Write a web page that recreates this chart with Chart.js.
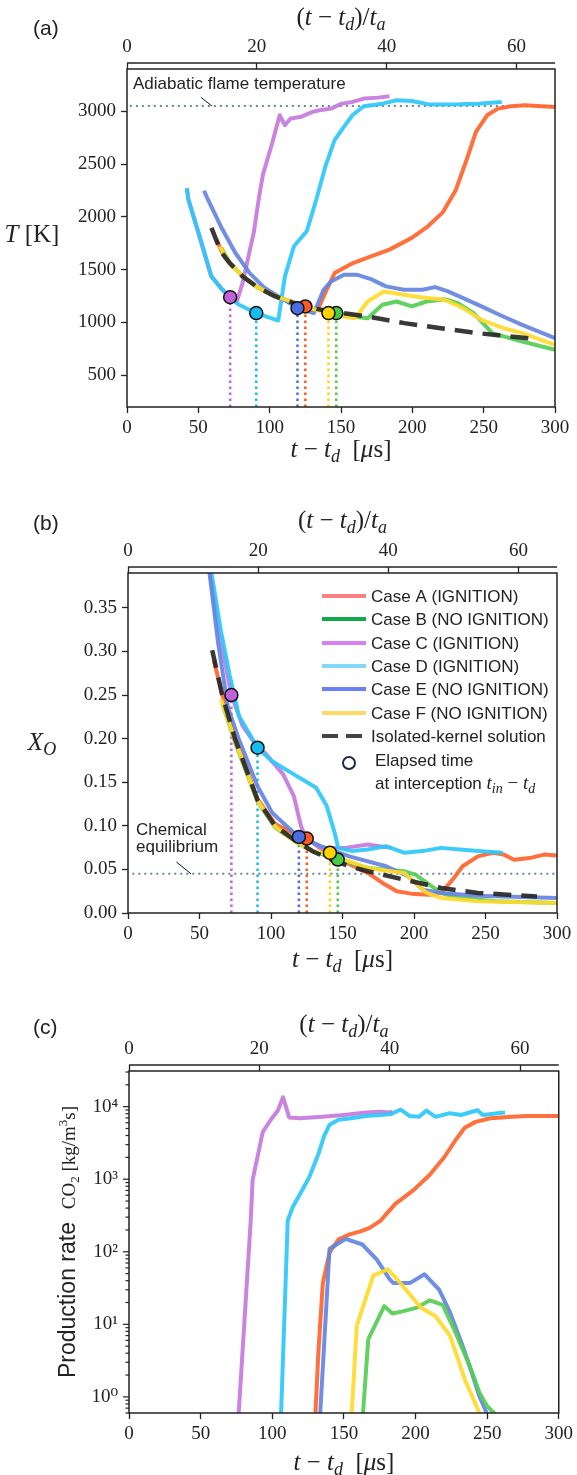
<!DOCTYPE html>
<html><head><meta charset="utf-8">
<script src="https://cdn.jsdelivr.net/npm/chart.js@4.4.1/dist/chart.umd.min.js"></script>
<style>
html,body{margin:0;padding:0;background:#fff;}
body{width:577px;height:1475px;position:relative;overflow:hidden;}
canvas{position:absolute;left:0;}
</style></head><body>
<canvas id="ca" width="577" height="478" style="top:0px"></canvas>
<canvas id="cb" width="577" height="505" style="top:480px"></canvas>
<canvas id="cc" width="577" height="485" style="top:990px"></canvas>
<script>
// ---------------- DATA ----------------
const caseLabels = ['Case A (IGNITION)','Case B (NO IGNITION)','Case C (IGNITION)','Case D (IGNITION)','Case E (NO IGNITION)','Case F (NO IGNITION)'];
const isolatedLabel = 'Isolated-kernel solution';
const timeTicks = [0,50,100,150,200,250,300];
const scaledTimeTicks = [0,20,40,60];
const tempTicks = [500,1000,1500,2000,2500,3000];
const xoTicks = [0,0.05,0.10,0.15,0.20,0.25,0.30,0.35];
const ta = 4.55; // advection time, us
const T_adiabatic = 3050;
const XO_equilibrium = 0.045;

// interception times (A..F) and values on each panel
const tInterception = [125, 146.7, 72.3, 90.6, 119.5, 141.2];
const T_atInterception = [1152, 1089, 1240, 1089, 1136, 1089];
const XO_atInterception = [0.0854, 0.0613, 0.25, 0.1896, 0.0873, 0.069];

// Panel (a) temperature
const aTimeA = [63,66,72,81,91.4,104,117,125,130,134,140,145.5,158.4,171,184,199.6,210,221.5,230.5,238,244.6,252.4,260,269,279,300];
const aTempA = [1780,1680,1565,1440,1335,1245,1180,1152,1120,1130,1310,1468,1563,1627,1690,1801,1900,2045,2255,2538,2805,2962,3025,3047,3057,3041];
const aTimeB = [66,72,81,91.4,104,117,130,146.7,158,168.7,179,189,199.6,210,223,232,243,256,264,277,300];
const aTempB = [1710,1565,1440,1335,1250,1190,1135,1089,1057,1041,1168,1199,1152,1199,1221,1184,1089,899,868,820,741];
const aTimeC = [42,43,50,59,66,72.3,77,81,88.8,92.7,95.3,98.6,101.7,107,110.7,114.6,122,130,135,143,150.6,158,166,176,184];
const aTempC = [2270,2165,1848,1437,1326,1240,1200,1373,1848,2200,2400,2553,2695,2962,2868,2931,2947,2994,3009,3025,3072,3088,3120,3129,3141];
const aTimeD = [42,43,50.2,59.2,65.7,72,78.5,90.6,103,106,110.7,117,126,132.6,139,145.5,152,158,166,179,189,199.6,212.5,233,246,262.7];
const aTempD = [2270,2165,1848,1437,1326,1240,1168,1089,1032,1019,1437,1722,1864,2160,2475,2726,2852,2962,3047,3072,3104,3097,3063,3066,3072,3088];
const aTimeE = [54,56.7,65.7,76,86,96.6,107,119.5,127.5,131,137.8,143,152,161,171,181.5,194,207,216,225,235.6,248.5,261,277,300];
const aTempE = [2248,2165,1912,1658,1468,1326,1240,1136,1104,1089,1310,1389,1453,1453,1411,1342,1310,1310,1335,1294,1231,1152,1073,978,851];
const aTimeF = [65,72,81,91.4,104,117,130,141.2,150,160,168.7,180,194,207,222.8,235.6,248.5,264,277,300];
const aTempF = [1720,1560,1440,1335,1250,1190,1130,1089,1060,1041,1199,1294,1263,1237,1215,1136,1025,946,899,788];
const aTimeIso = [59.2,65.7,72,81,91.4,104,117,130,143,168.7,194.4,220,246,286];
const aTempIso = [1896,1674,1563,1437,1335,1247,1184,1136,1104,1057,994,946,899,845];

// Panel (b) O mole fraction
const bTimeA = [60,66,75,90.5,103,116,125,142,167.6,178,188,198,211,219,227,234,244.7,255,262.7,270,280.7,291,300];
const bXoA = [0.290,0.250,0.200,0.131,0.102,0.091,0.0854,0.066,0.046,0.0345,0.0249,0.0222,0.021,0.023,0.0383,0.0536,0.065,0.069,0.067,0.061,0.063,0.067,0.066];
const bTimeB = [66,75,90.5,103,116,129,146.7,167.6,193,201,209,219,232,257.6,300];
const bXoB = [0.240,0.195,0.128,0.098,0.083,0.071,0.0613,0.0517,0.0479,0.044,0.0345,0.023,0.0172,0.0134,0.0115];
const bTimeC = [56,57.5,64,72.3,80,90.6,95.6,108.5,116,121,124,134,152,167.6,184];
const bXoC = [0.40,0.39,0.32,0.25,0.215,0.190,0.184,0.159,0.134,0.0996,0.088,0.0747,0.0747,0.0785,0.0747];
const bTimeD = [57,58.4,64.8,71.2,77.6,90.6,100.8,116,131.6,139,144.5,147,157,167.6,180.5,193.3,206,219,232,244.7,262];
const bXoD = [0.40,0.39,0.325,0.272,0.226,0.1896,0.174,0.159,0.1437,0.1226,0.092,0.0747,0.071,0.0728,0.0766,0.069,0.071,0.0747,0.0728,0.071,0.069];
const bTimeE = [55.5,57,63,70,77.6,90.5,100.8,111,119.5,134,154.8,180.5,196,206,219,244.7,300];
const bXoE = [0.40,0.39,0.31,0.235,0.199,0.1456,0.115,0.0996,0.0873,0.0774,0.065,0.0536,0.042,0.0268,0.023,0.0199,0.0172];
const bTimeF = [65,75,90.5,103,116,129,141.2,167.6,193,201,209,219,244.7,300];
const bXoF = [0.245,0.197,0.129,0.099,0.083,0.071,0.067,0.0517,0.046,0.0345,0.023,0.0172,0.0134,0.0115];
const bTimeIso = [58.9,66,75,90.5,103,116,129,142,154.8,167.6,193,219,244.7,286];
const bXoIso = [0.3015,0.249,0.199,0.130,0.0996,0.0843,0.0709,0.0613,0.0536,0.0479,0.0383,0.0287,0.023,0.019];

// Panel (c) CO2 production rate
const cTimeA = [129.5,130.2,132.2,135.3,140,146.3,154,161.6,168,175.6,185.9,198.6,210,220.3,228,234.4,242,252.2,267.5,277.7,288,300];
const cRateA = [0.3,0.61,4.1,37,98,148,174,191,214,269,457,708,1150,2040,3470,5130,6170,6920,7240,7410,7410,7410];
const cTimeB = [163,163.4,167,178.2,184,191,201,210,219,227,237,244.6,249.7,254.8,256];
const cRateB = [0.3,0.6,6.2,17.8,14.1,15.1,17,21.4,18.6,8.5,2.95,1.15,0.76,0.6,0.4];
const cTimeC = [76,76.6,85,86.3,93.4,99,104,107.5,111.8,119.5,134.8,150,165.4,175.7,181,184];
const cRateC = [0.32,0.61,275,980,4500,6600,8900,13500,7100,6900,7250,7700,8300,8500,8300,8500];
const cTimeD = [105.8,106.2,110.8,114.4,119.5,125.9,132.3,136.1,140,146.3,155,165.4,175.7,183.3,189.7,196,202.5,207.6,214,224,231.8,239.5,243.3,247,257.3,262.5];
const cRateD = [0.32,0.61,270,417,631,1070,2240,3890,5620,6610,6920,7410,7670,7940,9120,7410,7240,8810,7240,8130,7670,8510,8910,7670,8130,8320];
const cTimeE = [133,133.5,140,151.4,162.9,173,181.9,184.6,196,206.3,216.5,224.2,233,239.5,244.6,249.7,251];
const cRateE = [0.3,0.6,110,151,126,78,42,37,37,49,30,14.5,5.0,2.1,1.02,0.6,0.4];
const cTimeF = [154.8,155.5,159,170.5,180.8,191,203.7,214,224.2,234.4,244.6,246];
const cRateF = [0.3,0.6,9.5,47,57.5,34,17,12.9,6.9,1.74,0.6,0.4];

// ---------------- STYLE ----------------
const lineColors = ['rgba(255,100,45,0.92)','rgba(85,205,85,0.92)','rgba(198,122,221,0.92)','rgba(45,200,250,0.92)','rgba(100,132,226,0.92)','rgba(255,218,45,0.92)'];
const legendColors = ['#fb8080','#14a84c','#d680f2','#80d8fa','#6b80f2','#ffd966'];
const markerColors = ['#ff5a22','#48cc48','#c062d8','#14bdf0','#4a6ee0','#ffd400'];
const lineOrder = [7,6,5,4,3,2];
const SERIF='"Liberation Serif","DejaVu Serif",serif';
const SANS='"Liberation Sans",Arial,"DejaVu Sans",sans-serif';
const it=s=>`italic ${s}px ${SERIF}`;
const rm=s=>`${s}px ${SERIF}`;
const sn=s=>`${s}px ${SANS}`;
const INK='#222222';

function zip(xs,ys){return xs.map((x,i)=>({x,y:ys[i]}));}
function lineDs(xs,ys,color,width,order,dash){
  return {data:zip(xs,ys),showLine:true,borderColor:color,backgroundColor:color,borderWidth:width,
    pointRadius:0,pointHoverRadius:0,fill:false,tension:0,order,borderDash:dash||[],clip:0,
    borderCapStyle:'butt',borderJoinStyle:'round'};
}
function richWidth(ctx,runs){let w=0;for(const r of runs){ctx.font=r[1];w+=ctx.measureText(r[0]).width;}return w;}
function rich(ctx,runs,x,y,align){
  const w=richWidth(ctx,runs);
  let cx=align==='center'?x-w/2:(align==='right'?x-w:x);
  ctx.textAlign='left';ctx.textBaseline='alphabetic';ctx.fillStyle=INK;
  for(const r of runs){ctx.font=r[1];ctx.fillText(r[0],cx,y+(r[2]||0));cx+=ctx.measureText(r[0]).width;}
}
const xTitleRuns=[['t',it(25)],[' − ',rm(25)],['t',it(25)],['d',it(18),5],['  [',rm(25)],['μ',it(25)],['s]',rm(25)]];
const topTitleRuns=[['(',rm(25)],['t',it(25)],[' − ',rm(25)],['t',it(25)],['d',it(18),5],[')/',rm(25)],['t',it(25)],['a',it(18),5]];
function isPow10(v){const l=Math.log10(v);return Math.abs(l-Math.round(l))<1e-9;}
const SUP={'0':'⁰','1':'¹','2':'²','3':'³','4':'⁴','5':'⁵','-':'⁻'};
function powLabel(v){const e=String(Math.round(Math.log10(v)));return '10'+e.split('').map(c=>SUP[c]).join('');}

const tickFont={family:SERIF,size:19};
function gridOpts(len){return {drawOnChartArea:false,drawTicks:len>0,tickLength:len,tickColor:INK,tickWidth:1.3};}

function buildChart(id,geo,datasets,yScale,extraDraw){
  const cv=document.getElementById(id);
  const H=cv.height,W=cv.width;
  return new Chart(cv,{
    type:'scatter',
    data:{datasets},
    options:{
      responsive:false,animation:false,devicePixelRatio:1,events:[],
      layout:{padding:{left:0,top:0,bottom:0,right:W-geo.R}},
      plugins:{legend:{display:false},tooltip:{enabled:false}},
      scales:{
        x:{type:'linear',position:'bottom',min:0,max:300,
          afterBuildTicks:s=>{s.ticks=timeTicks.map(v=>({value:v}));},
          afterFit:s=>{s.height=H-geo.B;},
          grid:gridOpts(6),border:{display:false},
          ticks:{font:tickFont,color:INK,padding:4,maxRotation:0,autoSkip:false,callback:v=>String(v)}},
        x2:{type:'linear',position:'top',min:0,max:300/ta,
          afterBuildTicks:s=>{s.ticks=scaledTimeTicks.map(v=>({value:v}));},
          afterFit:s=>{s.height=geo.T;},
          grid:gridOpts(6),border:{display:false},
          ticks:{font:tickFont,color:INK,padding:5,maxRotation:0,autoSkip:false,callback:v=>String(v)}},
        y:Object.assign({position:'left',afterFit:s=>{s.width=geo.L;},border:{display:false}},yScale)
      }
    },
    plugins:[{id:'decor',
      afterDatasetsDraw(chart){
        const ctx=chart.ctx,a=chart.chartArea;
        ctx.save();
        ctx.strokeStyle=INK;ctx.lineWidth=1.5;ctx.setLineDash([]);
        ctx.strokeRect(a.left,a.top,a.right-a.left,a.bottom-a.top);
        ctx.beginPath();ctx.moveTo(a.left,a.top-6);ctx.lineTo(a.right,a.top-6);ctx.lineWidth=1.3;ctx.stroke();
        ctx.restore();
      },
      afterDraw(chart){const ctx=chart.ctx;ctx.save();extraDraw(chart,ctx);ctx.restore();}
    }]
  });
}

// ---------------- PANEL (a) ----------------
(function(){
  const geo={L:127,R:555,T:69,B:407};
  const ds=[];
  const aT=[aTimeA,aTimeB,aTimeC,aTimeD,aTimeE,aTimeF], aY=[aTempA,aTempB,aTempC,aTempD,aTempE,aTempF];
  for(let i=0;i<6;i++) ds.push(lineDs(aT[i],aY[i],lineColors[i],4,lineOrder[i]));
  ds.push(lineDs(aTimeIso,aTempIso,'rgba(40,40,40,0.92)',4.5,1,[18,10]));
  for(let i=0;i<6;i++) ds.push(lineDs([tInterception[i],tInterception[i]],[200,T_atInterception[i]],markerColors[i],2.5,9,[2.5,3.5]));
  ds.push(lineDs([2,300],[T_adiabatic,T_adiabatic],'#6d85a5',2,10,[2,4]));
  ds.push(lineDs([51.8,59.5],[3132,T_adiabatic],'#111',1,10));
  ds.push({data:zip(tInterception,T_atInterception),showLine:false,pointRadius:6.5,pointHoverRadius:6.5,
    backgroundColor:markerColors,borderColor:'#111',borderWidth:1.5,order:0});
  buildChart('ca',geo,ds,{type:'linear',min:200,max:3400,
    afterBuildTicks:s=>{s.ticks=tempTicks.map(v=>({value:v}));},
    grid:gridOpts(6),ticks:{font:tickFont,color:INK,padding:5,autoSkip:false,callback:v=>String(v)}},
    (chart,ctx)=>{
      const a=chart.chartArea,cx=(a.left+a.right)/2;
      rich(ctx,xTitleRuns,cx,457,'center');
      rich(ctx,topTitleRuns,cx,25,'center');
      rich(ctx,[['T',it(25)],[' [K]',rm(25)]],32,242,'center');
      rich(ctx,[['(a)',sn(21)]],33,35,'left');
      rich(ctx,[['Adiabatic flame temperature',sn(17)]],133,89,'left');
    });
})();

// ---------------- PANEL (b) ----------------
(function(){
  const geo={L:128,R:557,T:93,B:433};
  const ds=[];
  const bT=[bTimeA,bTimeB,bTimeC,bTimeD,bTimeE,bTimeF], bY=[bXoA,bXoB,bXoC,bXoD,bXoE,bXoF];
  for(let i=0;i<6;i++) ds.push(lineDs(bT[i],bY[i],lineColors[i],4,lineOrder[i]));
  ds.push(lineDs(bTimeIso,bXoIso,'rgba(40,40,40,0.92)',4.5,1,[18,10]));
  for(let i=0;i<6;i++) ds.push(lineDs([tInterception[i],tInterception[i]],[0,XO_atInterception[i]],markerColors[i],2.5,9,[2.5,3.5]));
  ds.push(lineDs([3,300],[XO_equilibrium,XO_equilibrium],'#6d85a5',2,10,[2,4]));
  ds.push(lineDs([33.9,44],[0.0585,XO_equilibrium],'#111',1,10));
  ds.push({data:zip(tInterception,XO_atInterception),showLine:false,pointRadius:6.5,pointHoverRadius:6.5,
    backgroundColor:markerColors,borderColor:'#111',borderWidth:1.5,order:0});
  buildChart('cb',geo,ds,{type:'linear',min:0,max:0.39,
    afterBuildTicks:s=>{s.ticks=xoTicks.map(v=>({value:v}));},
    grid:gridOpts(6),ticks:{font:tickFont,color:INK,padding:5,autoSkip:false,callback:v=>v.toFixed(2)}},
    (chart,ctx)=>{
      const a=chart.chartArea,cx=(a.left+a.right)/2;
      rich(ctx,xTitleRuns,cx,487,'center');
      rich(ctx,topTitleRuns,cx,48,'center');
      rich(ctx,[['X',it(25)],['O',it(18),5]],42,270,'center');
      rich(ctx,[['(b)',sn(21)]],33,50,'left');
      rich(ctx,[['Chemical',sn(17)]],136,355,'left');
      rich(ctx,[['equilibrium',sn(17)]],136,372,'left');
      // legend
      const rows=[116,139,163,186,209,233];
      ctx.lineCap='butt';
      for(let i=0;i<6;i++){
        ctx.strokeStyle=legendColors[i];ctx.lineWidth=4;ctx.setLineDash([]);
        ctx.beginPath();ctx.moveTo(322,rows[i]);ctx.lineTo(366,rows[i]);ctx.stroke();
        rich(ctx,[[caseLabels[i],sn(17)]],371,rows[i]+6,'left');
      }
      ctx.strokeStyle='#444';ctx.lineWidth=4;ctx.setLineDash([16,8]);
      ctx.beginPath();ctx.moveTo(322,256);ctx.lineTo(366,256);ctx.stroke();ctx.setLineDash([]);
      rich(ctx,[[isolatedLabel,sn(17)]],371,262,'left');
      ctx.strokeStyle='#1a2a4a';ctx.lineWidth=2;ctx.fillStyle='#fff';
      ctx.beginPath();ctx.arc(349,283,6,0,Math.PI*2);ctx.fill();ctx.stroke();
      rich(ctx,[['Elapsed time',sn(17)]],375,286,'left');
      rich(ctx,[['at interception ',sn(17)],['t',it(19)],['in',it(14),4],[' − ',rm(19)],['t',it(19)],['d',it(14),4]],375,309,'left');
    });
})();

// ---------------- PANEL (c) ----------------
(function(){
  const geo={L:129,R:561,T:81,B:423};
  const ds=[];
  const cT=[cTimeA,cTimeB,cTimeC,cTimeD,cTimeE,cTimeF], cY=[cRateA,cRateB,cRateC,cRateD,cRateE,cRateF];
  const cOrder=[6,3,7,5,4,2];
  for(let i=0;i<6;i++) ds.push(lineDs(cT[i],cY[i],lineColors[i],4,cOrder[i]));
  const yMin=0.6,yMax=31000;
  buildChart('cc',geo,ds,{type:'logarithmic',min:yMin,max:yMax,
    afterBuildTicks:s=>{const t=[];for(let e=-1;e<=4;e++)for(let m=1;m<=9;m++){const v=m*Math.pow(10,e);if(v>=yMin&&v<=yMax)t.push({value:v});}s.ticks=t;},
    grid:gridOpts(0),ticks:{font:tickFont,color:INK,padding:11,autoSkip:false,callback:v=>isPow10(v)?powLabel(v):''}},
    (chart,ctx)=>{
      const a=chart.chartArea,cx=(a.left+a.right)/2,s=chart.scales.y;
      ctx.strokeStyle=INK;ctx.lineWidth=1.2;
      for(const t of s.ticks){const py=s.getPixelForValue(t.value);const L=isPow10(t.value)?6:3.5;
        ctx.beginPath();ctx.moveTo(a.left,py);ctx.lineTo(a.left-L,py);ctx.stroke();}
      rich(ctx,xTitleRuns,cx,480,'center');
      rich(ctx,topTitleRuns,cx,42,'center');
      rich(ctx,[['(c)',sn(21)]],33,44,'left');
      ctx.save();ctx.translate(75,(a.top+a.bottom)/2);ctx.rotate(-Math.PI/2);
      rich(ctx,[['Production rate  ',sn(23)],['CO',rm(19)],['2',rm(13),4],[' [kg/m',rm(19)],['3',rm(13),-8],['s]',rm(19)]],0,0,'center');
      ctx.restore();
    });
})();
</script>
</body></html>
